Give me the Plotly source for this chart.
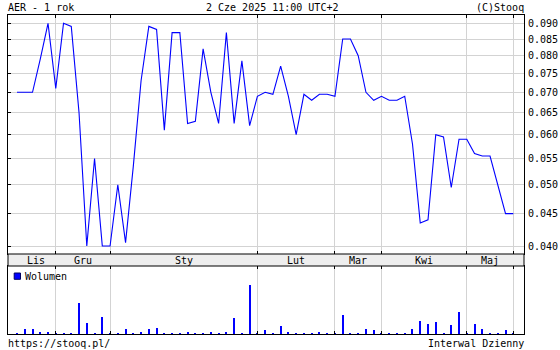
import plotly.graph_objects as go

# ---------------- data ----------------
prices = [0.070, 0.070, 0.070, 0.079, 0.090, 0.071, 0.090, 0.089, 0.065, 0.040,
          0.055, 0.040, 0.040, 0.050, 0.0405, 0.0535, 0.073, 0.089, 0.088, 0.061,
          0.087, 0.087, 0.0625, 0.063, 0.082, 0.070, 0.0625, 0.087, 0.0625, 0.0785,
          0.062, 0.069, 0.070, 0.0695, 0.077, 0.069, 0.060, 0.0695, 0.068, 0.0695,
          0.0695, 0.069, 0.085, 0.085, 0.080, 0.070, 0.068, 0.069, 0.068, 0.068,
          0.069, 0.058, 0.0435, 0.044, 0.060, 0.0595, 0.0495, 0.059, 0.059, 0.056,
          0.0555, 0.0555, 0.050, 0.045, 0.045]

volumes = [1500, 5000, 5000, 2300, 2300, 1500, 1500, 1500, 31000, 11000,
           1500, 17000, 1500, 1500, 5000, 1500, 2300, 5000, 6300, 1500,
           1500, 1500, 2300, 1500, 1500, 2300, 1500, 2300, 16300, 1500,
           49000, 1500, 4000, 1500, 8000, 2300, 1500, 1500, 1500, 2300,
           1500, 1500, 19000, 1500, 1500, 5000, 4000, 1500, 1500, 1500,
           1500, 5000, 13000, 10000, 12000, 1500, 9000, 22000, 1500, 10000,
           5000, 1500, 1500, 4000, 1500]

month_labels = ["Lis", "Gru", "Sty", "Lut", "Mar", "Kwi", "Maj"]
month_starts = [0, 5, 12, 31, 41, 47, 58, 64]   # session index of month start
price_ticks = [0.040, 0.045, 0.050, 0.055, 0.060, 0.065, 0.070, 0.075, 0.080, 0.085, 0.090]

title_left = "AER - 1 rok"
title_mid = "2 Cze 2025 11:00 UTC+2"
title_right = "(C)Stooq"
footer_left = "https://stooq.pl/"
footer_right = "Interwal Dzienny"
legend_name = "Wolumen"

# ---------------- layout helpers ----------------
W, H = 560, 350
def px(x):
    return x / W
def py(y):
    return 1 - y / H

FONT = "DejaVu Sans Mono"
BLUE = "#0000ff"
GRID = "#d3d3d3"

idx = list(range(len(prices)))
grid_vals = month_starts[1:]
label_pos = [(month_starts[i] + month_starts[i + 1]) / 2 for i in range(len(month_labels))]

xr = [-1.1605, 65.38]
yr = [-1.41059, -1.03263]

fig = go.Figure()
fig.add_trace(go.Scatter(x=idx, y=prices, mode="lines",
                         line=dict(color=BLUE, width=1.1),
                         xaxis="x", yaxis="y", showlegend=False))
# invisible copy carrying the right-hand price axis
fig.add_trace(go.Scatter(x=idx, y=prices, mode="lines", line=dict(width=0),
                         opacity=0, xaxis="x", yaxis="y3", showlegend=False,
                         hoverinfo="skip"))
fig.add_trace(go.Bar(x=idx, y=volumes, width=0.13,
                     marker=dict(color=BLUE, line=dict(width=0)),
                     xaxis="x2", yaxis="y2", showlegend=False, name=legend_name))

common_x = dict(range=xr, tickmode="array", tickvals=grid_vals, showticklabels=False,
                ticks="inside", ticklen=3, tickcolor="black", tickwidth=1,
                showgrid=True, gridcolor=GRID, gridwidth=1,
                showline=True, linecolor="black", linewidth=1, mirror="ticks",
                zeroline=False, fixedrange=True)

fig.update_layout(
    width=W, height=H,
    margin=dict(l=0, r=0, t=0, b=0),
    paper_bgcolor="white", plot_bgcolor="white",
    font=dict(family=FONT, size=10, color="black"),
    showlegend=False,
    bargap=0,
    xaxis=dict(domain=[px(8), px(524)], anchor="y", **common_x),
    yaxis=dict(domain=[py(254), py(15)], anchor="x", type="log", range=yr,
               tickmode="array", tickvals=price_ticks, showticklabels=False,
               ticks="inside", ticklen=3, tickcolor="black",
               showgrid=True, gridcolor=GRID, gridwidth=1,
               showline=True, linecolor="black", linewidth=1, mirror=True,
               zeroline=False),
    yaxis3=dict(overlaying="y", side="right", anchor="x", type="log", range=yr,
                tickmode="array", tickvals=price_ticks, tickformat=".3f",
                showgrid=False, ticks="", ticklabelstandoff=3,
                tickfont=dict(family=FONT, size=10, color="black"),
                showline=False, zeroline=False),
    xaxis2=dict(domain=[px(8), px(524)], anchor="y2", **common_x),
    yaxis2=dict(domain=[py(334.3), py(266)], anchor="x2", range=[0, 68300],
                showgrid=False, showticklabels=False, ticks="",
                showline=True, linecolor="black", linewidth=1, mirror=True,
                zeroline=False),
)

shapes = [
    # month label band
    dict(type="rect", xref="paper", yref="paper", x0=px(8), x1=px(524),
         y0=py(266), y1=py(254), fillcolor="#eeeeee",
         line=dict(color="black", width=1), layer="above"),
    # legend swatch
    dict(type="rect", xref="paper", yref="paper", x0=px(14.2), x1=px(20.5),
         y0=py(279.3), y1=py(273), fillcolor=BLUE,
         line=dict(color="#000060", width=1)),
]
fig.update_layout(shapes=shapes)

ann = []
for lab, pos in zip(month_labels, label_pos):
    ann.append(dict(x=pos, y=py(260), xref="x", yref="paper", text=lab,
                    showarrow=False, xanchor="center", yanchor="middle",
                    font=dict(family=FONT, size=10, color="black")))
ann += [
    dict(x=px(8), y=py(7), xref="paper", yref="paper", text=title_left,
         showarrow=False, xanchor="left", yanchor="middle", xshift=-2),
    dict(x=px(271.5), y=py(7), xref="paper", yref="paper", text=title_mid,
         showarrow=False, xanchor="center", yanchor="middle"),
    dict(x=px(524), y=py(7), xref="paper", yref="paper", text=title_right,
         showarrow=False, xanchor="right", yanchor="middle", xshift=2),
    dict(x=px(8), y=py(343), xref="paper", yref="paper", text=footer_left,
         showarrow=False, xanchor="left", yanchor="middle", xshift=-2),
    dict(x=px(524), y=py(343), xref="paper", yref="paper", text=footer_right,
         showarrow=False, xanchor="right", yanchor="middle", xshift=2),
    dict(x=px(23), y=py(276), xref="paper", yref="paper", text=legend_name,
         showarrow=False, xanchor="left", yanchor="middle"),
]
for a in ann:
    a.setdefault("font", dict(family=FONT, size=10, color="black"))
fig.update_layout(annotations=ann)

fig.write_html("out.html")
